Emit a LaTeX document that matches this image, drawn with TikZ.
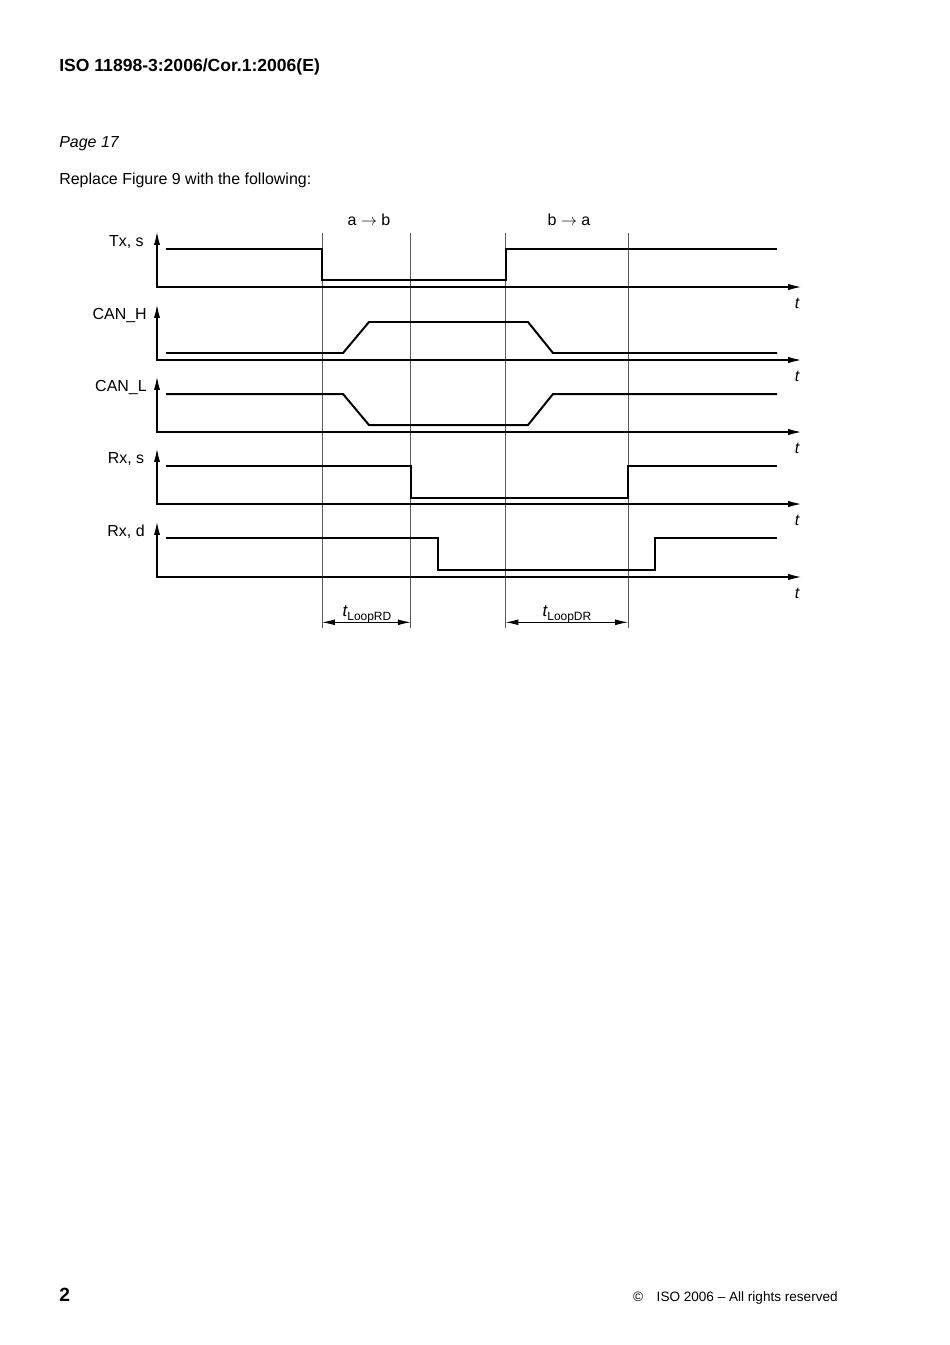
\documentclass[tikz,border=0pt]{standalone}
\usepackage{fontspec}
\setmainfont{Liberation Sans}
\usetikzlibrary{arrows.meta}
\begin{document}
\begin{tikzpicture}[x=0.62661pt,y=-0.62661pt,
  sig/.style={line width=1.25pt, line join=miter},
  axis/.style={line width=0.65pt, {Latex[length=8pt,width=3.8pt]}-{Latex[length=8pt,width=4pt]}},
  gridln/.style={line width=0.45pt, black!65},
  dim/.style={line width=0.55pt, {Latex[length=8pt,width=3.6pt]}-{Latex[length=8pt,width=3.6pt]}},
  lbl/.style={font=\fontsize{10}{12}\selectfont, inner sep=0pt},
  tlbl/.style={font=\fontsize{10}{12}\selectfont\itshape, inner sep=0pt, anchor=base},
  txt/.style={inner sep=0pt, anchor=base west}]
\useasboundingbox (0,0) rectangle (950,1345);

% page texts
\node[txt, font=\fontsize{11}{13}\selectfont\bfseries] (hdr) at (59,72) {ISO 11898-3:2006/Cor.1:2006(E)};
\node[txt, font=\fontsize{10}{12}\selectfont\itshape] (pg) at (59,148) {Page 17};
\node[txt, font=\fontsize{10}{12}\selectfont] (repl) at (59,184.5) {Replace Figure 9 with the following:};
\node[txt, font=\fontsize{12}{14}\selectfont\bfseries] (pnum) at (59,1301) {2};
\node[inner sep=0pt, anchor=base east, font=\fontsize{8.5}{10}\selectfont] (copy) at (838,1301) {\textcopyright\quad ISO 2006 – All rights reserved};

% grid lines
\foreach \gx [count=\k] in {322,410.7,505.5,628} {
  \coordinate (gt\k) at (\gx,233);
  \coordinate (gb\k) at (\gx,628);
  \draw[gridln] (gt\k) -- (gb\k);
}

% direction labels
\node[lbl, anchor=base] (ab) at (369,225.5) {a $\rightarrow$ b};
\node[lbl, anchor=base] (ba) at (569,225.5) {b $\rightarrow$ a};

% axes, labels
\foreach \A/\nm/\lx/\txt in {287/tx/144/{Tx, s},360/canh/147/{CAN\_H},432/canl/147/{CAN\_L},504/rxs/144.5/{Rx, s},577/rxd/145/{Rx, d}} {
  \coordinate (\nm top) at (157,\A-55);
  \coordinate (\nm o) at (157,\A);
  \coordinate (\nm end) at (801,\A);
  \draw[axis] (\nm top) -- (\nm o) -- (\nm end);
  \node[lbl, anchor=base east] (\nm lab) at (\lx,\A-41) {\txt};
  \node[tlbl] (\nm t) at (797,\A+21) {t};
}

% signals
\draw[sig] (166,249) -- (322,249) -- (322,280) -- (505.5,280) -- (505.5,249) -- (777,249);
\draw[sig] (166,353) -- (343,353) -- (369,322) -- (528,322) -- (553,353) -- (777,353);
\draw[sig] (166,394) -- (343,394) -- (369,425) -- (528,425) -- (553,394) -- (777,394);
\draw[sig] (166,466) -- (410.7,466) -- (410.7,497.5) -- (628,497.5) -- (628,466) -- (777,466);
\draw[sig] (166,538) -- (437.7,538) -- (437.7,570) -- (655,570) -- (655,538) -- (777,538);

% dimension arrows
\coordinate (d1) at (322,622.3);
\coordinate (d2) at (410.7,622.3);
\coordinate (d3) at (505.5,622.3);
\coordinate (d4) at (628,622.3);
\draw[dim] (d1) -- (d2);
\draw[dim] (d3) -- (d4);
\node[inner sep=0pt, anchor=base, font=\fontsize{10.5}{12}\selectfont] (lrd) at (367,616)
  {\itshape t\upshape\raisebox{-0.5ex}{\fontsize{7.5}{8}\selectfont LoopRD}};
\node[inner sep=0pt, anchor=base, font=\fontsize{10.5}{12}\selectfont] (ldr) at (567,616)
  {\itshape t\upshape\raisebox{-0.5ex}{\fontsize{7.5}{8}\selectfont LoopDR}};
\end{tikzpicture}
\end{document}
